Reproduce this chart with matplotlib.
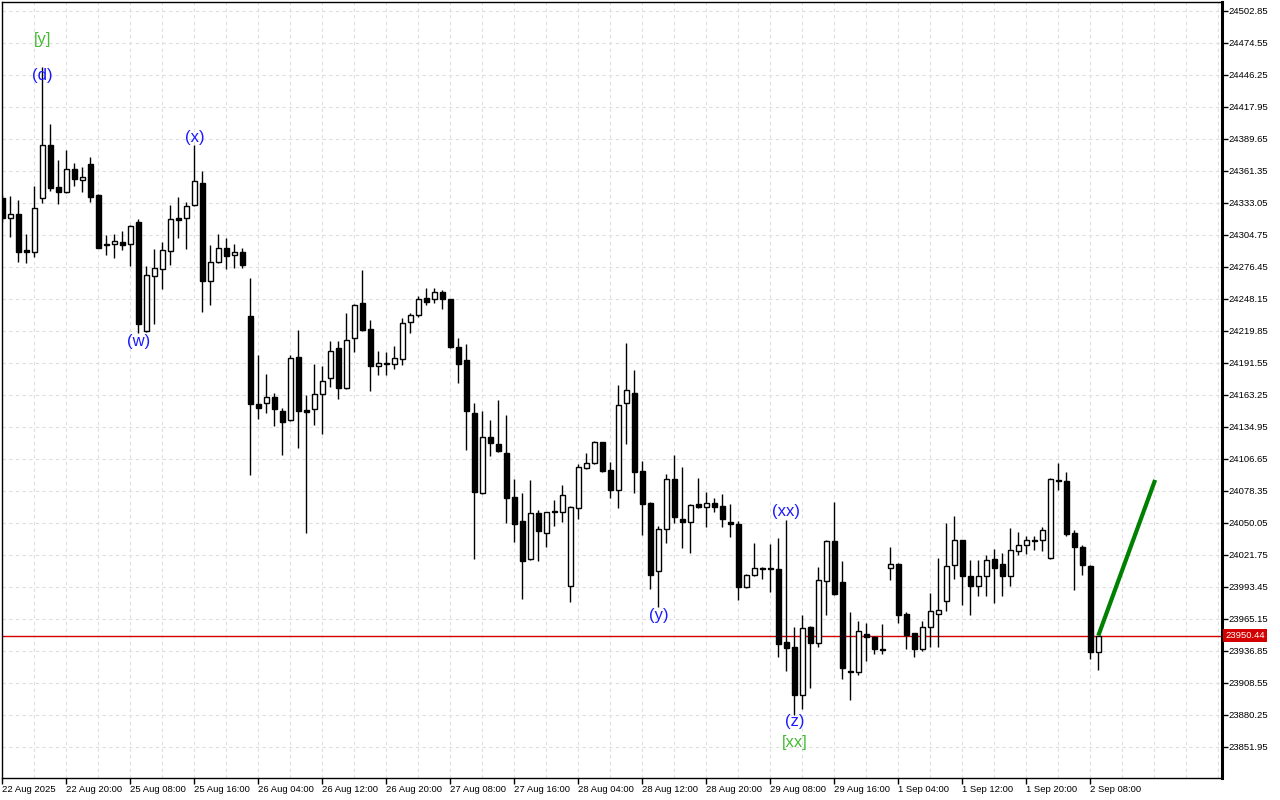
import matplotlib
matplotlib.use('Agg')
import matplotlib.pyplot as plt
import matplotlib.transforms as mtransforms
import numpy as np

plt.rcParams['font.family'] = ['Liberation Sans', 'DejaVu Sans']

# hourly candles
opens = [
24337.7, 24319.5, 24323.3, 24291.2, 24289.4, 24337.2, 24384.3, 24347.2, 24343.0, 24363.1,
24353.7, 24367.3, 24340.1, 24297.1, 24296.5, 24298.6, 24296.5, 24316.3, 24220.1, 24268.2,
24274.4, 24290.3, 24319.8, 24319.5, 24331.0, 24350.5, 24263.8, 24280.6, 24293.0, 24286.8,
24289.4, 24233.1, 24155.0, 24155.9, 24161.2, 24148.8, 24140.9, 24196.9, 24150.0, 24150.6,
24163.9, 24178.6, 24204.6, 24169.2, 24213.4, 24244.3, 24221.4, 24188.6, 24191.3, 24190.4,
24194.8, 24227.5, 24233.7, 24248.8, 24247.9, 24254.1, 24247.9, 24205.4, 24193.9, 24147.3,
24076.3, 24125.8, 24119.7, 24112.0, 24072.8, 24051.6, 24018.0, 24058.6, 24040.9, 24060.9,
24059.5, 23994.1, 24063.1, 24099.0, 24102.9, 24121.4, 24096.7, 24079.0, 24155.9, 24164.8,
24095.8, 24067.5, 24007.3, 24044.5, 24088.7, 24053.3, 24050.7, 24066.6, 24063.9, 24067.5,
24064.8, 24050.7, 24048.9, 23993.7, 24003.8, 24010.3, 24010.3, 24009.1, 23944.8, 23940.1,
23898.2, 23957.8, 23943.7, 23998.5, 24033.9, 23997.6, 23919.4, 23918.0, 23951.6, 23949.5,
23938.6, 24010.0, 24013.5, 23969.3, 23952.5, 23938.4, 23957.8, 23969.3, 23980.8, 24012.7,
24034.8, 24002.9, 23994.1, 24002.9, 24018.0, 24013.5, 24002.9, 24025.0, 24030.3, 24034.8,
24034.8, 24018.8, 24087.8, 24086.9, 24040.9, 24028.6, 24011.8, 23935.7]

highs = [
24340.1, 24339.2, 24335.7, 24305.6, 24348.1, 24453.6, 24402.9, 24371.1, 24379.9, 24368.4,
24364.6, 24373.5, 24340.7, 24304.8, 24305.6, 24308.0, 24313.6, 24318.6, 24277.1, 24292.4,
24298.6, 24331.3, 24338.4, 24333.9, 24384.1, 24361.1, 24295.6, 24305.6, 24301.8, 24296.5,
24293.0, 24266.7, 24198.6, 24181.6, 24164.8, 24151.5, 24198.6, 24220.7, 24163.0, 24190.7,
24188.6, 24211.0, 24211.0, 24235.8, 24243.7, 24273.8, 24229.3, 24201.9, 24201.0, 24206.3,
24231.1, 24235.5, 24250.5, 24257.6, 24257.6, 24255.9, 24248.3, 24213.4, 24208.1, 24156.2,
24149.1, 24141.1, 24158.8, 24145.6, 24088.7, 24076.3, 24088.1, 24061.6, 24059.8, 24070.4,
24083.7, 24065.1, 24102.2, 24112.2, 24122.3, 24122.1, 24103.7, 24171.8, 24209.2, 24185.1,
24104.6, 24068.2, 24047.1, 24093.1, 24109.9, 24099.3, 24066.4, 24089.6, 24077.2, 24071.9,
24075.4, 24066.6, 24051.6, 24004.7, 24032.1, 24010.7, 24031.5, 24036.5, 24052.7, 23957.8,
23968.7, 23958.5, 24011.1, 24034.6, 24068.6, 24016.5, 23971.1, 23963.4, 23961.6, 23950.1,
23960.7, 24028.8, 24014.4, 23971.1, 23952.8, 23963.1, 23988.2, 24019.1, 24050.1, 24056.0,
24035.2, 24017.1, 24017.1, 24021.5, 24026.8, 24023.3, 24045.4, 24041.8, 24038.3, 24038.3,
24046.3, 24089.6, 24102.9, 24094.9, 24043.6, 24030.3, 24012.7, 23950.44]

lows = [
24316.3, 24303.2, 24280.9, 24280.3, 24285.6, 24333.3, 24343.9, 24332.2, 24341.9, 24348.1,
24343.0, 24334.2, 24292.8, 24287.3, 24284.7, 24291.5, 24277.3, 24218.4, 24219.0, 24226.3,
24257.3, 24278.5, 24302.4, 24292.6, 24330.0, 24236.9, 24243.1, 24279.7, 24274.4, 24275.3,
24275.3, 24092.8, 24142.3, 24147.1, 24136.1, 24110.5, 24139.8, 24116.6, 24040.9, 24137.0,
24129.0, 24170.1, 24159.5, 24168.1, 24201.5, 24219.9, 24166.5, 24180.7, 24180.7, 24186.0,
24189.5, 24217.8, 24232.0, 24243.1, 24244.3, 24239.0, 24204.6, 24173.6, 24114.4, 24018.5,
24075.7, 24109.6, 24112.8, 24050.3, 24033.5, 23982.6, 24016.9, 24016.7, 24029.1, 24047.7,
24051.2, 23979.9, 24053.9, 24098.1, 24102.2, 24095.2, 24072.4, 24063.6, 24119.7, 24076.3,
24039.7, 23991.4, 23975.5, 24032.1, 24049.8, 24028.2, 24023.8, 24063.1, 24046.8, 24059.5,
24046.8, 24037.9, 23982.2, 23992.8, 24003.2, 24000.8, 23989.3, 23931.8, 23919.4, 23880.3,
23885.8, 23903.9, 23940.7, 23969.0, 23986.1, 23912.4, 23893.3, 23915.4, 23927.7, 23933.9,
23933.9, 23999.4, 23961.9, 23938.4, 23931.3, 23936.6, 23940.1, 23940.1, 23972.0, 24000.3,
23977.3, 23968.4, 23985.8, 23985.8, 23979.6, 23985.8, 23994.6, 24021.5, 24022.4, 24025.9,
24025.0, 24018.2, 24079.2, 24038.3, 23990.5, 24003.8, 23930.0, 23919.8]

closes = [
24319.5, 24323.1, 24289.7, 24289.7, 24328.4, 24384.1, 24346.6, 24343.0, 24363.1, 24354.5,
24356.0, 24338.6, 24293.5, 24295.6, 24299.2, 24296.2, 24312.4, 24226.3, 24269.1, 24275.3,
24291.2, 24318.6, 24318.3, 24330.4, 24352.2, 24263.8, 24280.6, 24293.0, 24285.9, 24289.4,
24278.0, 24155.6, 24152.0, 24161.2, 24150.6, 24139.6, 24195.7, 24149.4, 24148.5, 24164.4,
24175.4, 24201.9, 24169.2, 24211.6, 24242.6, 24220.7, 24188.6, 24191.3, 24190.4, 24195.7,
24226.7, 24234.0, 24247.9, 24245.8, 24254.1, 24247.9, 24205.4, 24190.4, 24148.8, 24077.2,
24125.8, 24120.5, 24113.7, 24072.4, 24048.9, 24016.7, 24058.6, 24042.7, 24059.5, 24059.5,
24074.5, 24063.9, 24099.3, 24102.9, 24121.4, 24096.0, 24079.5, 24154.1, 24167.4, 24094.9,
24066.6, 24003.8, 24044.5, 24088.7, 24055.1, 24050.7, 24065.7, 24063.9, 24067.5, 24063.9,
24053.3, 24048.9, 23993.7, 24004.1, 24010.0, 24009.1, 24009.1, 23943.3, 23939.8, 23897.9,
23956.9, 23943.7, 23999.4, 24033.9, 23987.5, 23922.1, 23918.0, 23954.3, 23949.0, 23938.4,
23938.0, 24013.5, 23968.4, 23950.7, 23938.4, 23957.8, 23972.0, 23972.9, 24011.8, 24034.8,
24002.9, 23994.1, 24002.9, 24017.1, 24010.0, 24002.9, 24025.9, 24030.3, 24034.8, 24033.9,
24043.6, 24088.7, 24087.2, 24040.6, 24028.6, 24012.7, 23935.7, 23950.44]

time_labels = ["22 Aug 2025", "22 Aug 20:00", "25 Aug 08:00", "25 Aug 16:00", "26 Aug 04:00",
               "26 Aug 12:00", "26 Aug 20:00", "27 Aug 08:00", "27 Aug 16:00", "28 Aug 04:00",
               "28 Aug 12:00", "28 Aug 20:00", "29 Aug 08:00", "29 Aug 16:00", "1 Sep 04:00",
               "1 Sep 12:00", "1 Sep 20:00", "2 Sep 08:00"]
price_ticks = [24502.85, 24474.55, 24446.25, 24417.95, 24389.65, 24361.35, 24333.05, 24304.75,
               24276.45, 24248.15, 24219.85, 24191.55, 24163.25, 24134.95, 24106.65, 24078.35,
               24050.05, 24021.75, 23993.45, 23965.15, 23936.85, 23908.55, 23880.25, 23851.95]
last_price = 23950.44

# wave marks: (text, bar index, price, kind)
wave_text = ["[y]", "(d)", "(x)", "(w)", "(y)", "(xx)", "(z)", "[xx]"]
wave_bar = [5, 5, 24, 17, 82, 98, 99, 99]
wave_price = [24477.2, 24445.4, 24391.4, 24210.7, 23967.8, 24059.8, 23874.1, 23855.5]
wave_major = [True, False, False, False, False, False, False, True]

# projected move
proj_bar = [137, 144.1]
proj_price = [23950.44, 24088.1]

o = np.array(opens); h = np.array(highs); l = np.array(lows); c = np.array(closes)
xs = np.arange(len(o))
up = c >= o

fig = plt.figure(figsize=(12.8, 8), dpi=100)
ax = fig.add_axes([2/1280, 22/800, 1220/1280, 776/800])
ax.set_xlim(-0.04, 152.46)
ax.set_ylim(23824.5, 24510.8)

# grid
for k in range(0, 153, 4):
    ax.axvline(k, color='#dedede', lw=0.8, ls=(0, (3, 3)), zorder=0)
for p in price_ticks:
    ax.axhline(p, color='#dedede', lw=0.8, ls=(0, (3, 3)), zorder=0)

ax.vlines(xs, l, h, color='black', lw=1, zorder=2)
ax.bar(xs, np.maximum(np.abs(c - o), 0.5), bottom=np.minimum(o, c), width=0.55,
       color=np.where(up, 'white', 'black'), edgecolor='black', lw=1, zorder=3)

ax.axhline(last_price, color='#d40000', lw=1, zorder=1)
ax.plot(proj_bar, proj_price, color='#008000', lw=3, zorder=4, solid_capstyle='butt')

for t, b, p, mj in zip(wave_text, wave_bar, wave_price, wave_major):
    ax.text(b, p, t, ha='center', va='center', fontsize=12,
            color='#44bb33' if mj else '#1a1aff', zorder=5)

# axes
ax.yaxis.tick_right()
ax.set_yticks(price_ticks)
ax.set_yticklabels([f"{p:.2f}" for p in price_ticks])
ax.tick_params(axis='y', direction='out', length=4, width=1, labelsize=6.8, pad=1)
ax.set_xticks(range(0, 8 * len(time_labels), 8))
ax.set_xticklabels(time_labels, ha='left')
ax.tick_params(axis='x', direction='out', length=4, width=1, labelsize=6.8, pad=1)
for s in ['top', 'left', 'bottom']:
    ax.spines[s].set_linewidth(1)
ax.spines['right'].set_linewidth(2.2)

trans = mtransforms.blended_transform_factory(ax.transAxes, ax.transData)
ax.text(1.0025, last_price, f"{last_price:.2f}", transform=trans, ha='left', va='center',
        fontsize=6.8, color='white', zorder=6,
        bbox=dict(boxstyle='square,pad=0.2', fc='#d40000', ec='none'))

fig.savefig('out.png', dpi=100)
